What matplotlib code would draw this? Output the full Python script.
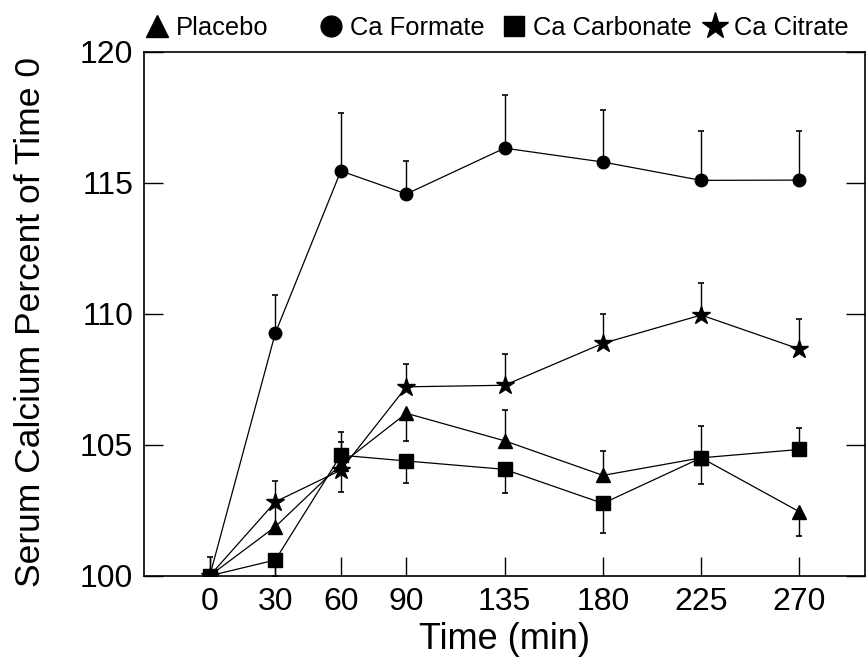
import numpy as np
import matplotlib
matplotlib.use("Agg")
import matplotlib.pyplot as plt
from matplotlib.lines import Line2D

plt.rcParams["font.family"] = ["Liberation Sans", "DejaVu Sans"]

# time points (min)
times = [0, 30, 60, 90, 135, 180, 225, 270]

# serum calcium, percent of time 0
placebo = [100.0, 101.87, 104.25, 106.2, 105.15, 103.83, 104.5, 102.44]
formate = [100.0, 109.26, 115.45, 114.57, 116.32, 115.79, 115.09, 115.1]
carbonate = [100.0, 100.6, 104.6, 104.38, 104.06, 102.76, 104.5, 104.82]
citrate = [100.0, 102.82, 104.03, 107.21, 107.27, 108.87, 109.95, 108.65]

# one-sided error bars (lower, upper)
placebo_lo = [0, 0, 0, 1.05, 0, 0, 1.0, 0.92]
placebo_hi = [0.7, 0.9, 0.86, 0, 1.17, 0.94, 0, 0]
formate_lo = [0, 0, 0, 0, 0, 0, 0, 0]
formate_hi = [0, 1.44, 2.22, 1.27, 2.03, 1.98, 1.88, 1.87]
carbonate_lo = [0, 0.6, 0, 0.83, 0.89, 1.14, 0, 0]
carbonate_hi = [0, 0, 0.87, 0, 0, 0, 1.21, 0.83]
citrate_lo = [0, 0, 0.85, 0, 0, 0, 0, 0]
citrate_hi = [0, 0.81, 0, 0.88, 1.19, 1.11, 1.23, 1.16]

labels = ["Placebo", "Ca Formate", "Ca Carbonate", "Ca Citrate"]
xticks = [0, 30, 60, 90, 135, 180, 225, 270]
yticks = [100, 105, 110, 115, 120]

fig = plt.figure(figsize=(8.67, 6.7), dpi=100)
ax = fig.add_axes([0.1664, 0.1407, 0.8313, 0.7821])

series = [
    (formate, formate_lo, formate_hi, "o", 9),
    (citrate, citrate_lo, citrate_hi, "*", 13.5),
    (placebo, placebo_lo, placebo_hi, "^", 10),
    (carbonate, carbonate_lo, carbonate_hi, "s", 9.5),
]
for vals, lo, hi, mk, ms in series:
    ax.errorbar(times, vals, yerr=[lo, hi], color="black", marker=mk,
                markersize=ms, linewidth=0.9, elinewidth=1.0,
                capsize=2.5, capthick=1.2)

ax.set_xlim(-30, 300)
ax.set_ylim(100, 120)
ax.set_xticks(xticks)
ax.set_yticks(yticks)
ax.tick_params(axis="both", direction="in", length=14, width=1.0,
               labelsize=23, pad=8)
ax.tick_params(axis="y", right=True)
for sp in ax.spines.values():
    sp.set_linewidth(1.2)

ax.set_xlabel("Time (min)", fontsize=26)
ax.set_ylabel("Serum Calcium Percent of Time 0", fontsize=25.5)
ax.yaxis.set_label_coords(-0.135, 0.485)
ax.xaxis.set_label_coords(0.5, -0.088)

# legend row across the top
markers = ["^", "o", "s", "*"]
msizes = [16, 15, 15, 20]
anchors = [0.169, 0.370, 0.581, 0.813]
for lab, mk, ms, xa in zip(labels, markers, msizes, anchors):
    h = Line2D([], [], color="black", marker=mk, markersize=ms, linestyle="none")
    lg = fig.legend([h], [lab], loc="center left", bbox_to_anchor=(xa, 0.958),
                    frameon=False, fontsize=18.4, handlelength=0.8,
                    handletextpad=0.35, borderpad=0, borderaxespad=0)

fig.savefig("out.png", dpi=100)
